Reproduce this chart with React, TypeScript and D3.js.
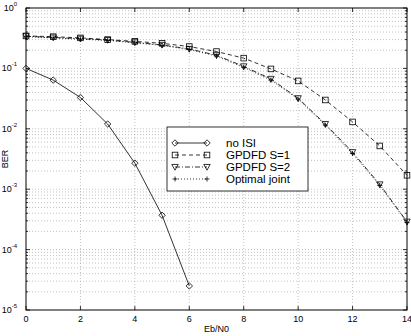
import { useRef, useEffect } from 'react';
import * as d3 from 'd3';

const EBN0 = [0, 1, 2, 3, 4, 5, 6, 7, 8, 9, 10, 11, 12, 13, 14];
const NO_ISI = [0.1, 0.064, 0.033, 0.012, 0.0027, 0.00037, 0.000025];
const GPDFD_S1 = [0.345, 0.335, 0.32, 0.3, 0.28, 0.26, 0.23, 0.19, 0.148, 0.098, 0.062, 0.03, 0.013, 0.0052, 0.0017];
const GPDFD_S2 = [0.34, 0.325, 0.31, 0.295, 0.27, 0.245, 0.21, 0.165, 0.108, 0.067, 0.032, 0.012, 0.0041, 0.0012, 0.00029];
const OPTIMAL = [0.335, 0.32, 0.305, 0.29, 0.265, 0.24, 0.205, 0.16, 0.104, 0.064, 0.031, 0.0115, 0.0039, 0.00115, 0.00028];
const X_TICKS = [0, 2, 4, 6, 8, 10, 12, 14];
const Y_EXPS = [0, -1, -2, -3, -4, -5];

export default function App() {
  const svgRef = useRef<SVGSVGElement>(null);

  useEffect(() => {
    const svg = d3.select(svgRef.current);
    svg.selectAll('*').remove();
    const W = 411, H = 336;
    const m = { l: 26, r: 4, t: 8, b: 26 };
    const x = d3.scaleLinear().domain([0, 14]).range([m.l, W - m.r]);
    const y = d3.scaleLog().domain([1e-5, 1]).range([H - m.b, m.t]);
    const font = 'Liberation Sans, Arial, sans-serif';

    svg.append('rect').attr('x', 0).attr('y', 0).attr('width', W).attr('height', H).attr('fill', '#fff');

    // grid
    const grid = svg.append('g').attr('stroke', '#999').attr('stroke-width', 0.6).attr('stroke-dasharray', '1,2');
    X_TICKS.slice(1, -1).forEach((t) => {
      grid.append('line').attr('x1', x(t)).attr('x2', x(t)).attr('y1', m.t).attr('y2', H - m.b);
    });
    const minor: number[] = [];
    for (let e = -5; e < 0; e++) for (let k = 1; k < 10; k++) minor.push(k * Math.pow(10, e));
    minor.slice(1).forEach((v) => {
      grid.append('line').attr('x1', m.l).attr('x2', W - m.r).attr('y1', y(v)).attr('y2', y(v));
    });

    // frame and ticks
    svg.append('rect').attr('x', m.l).attr('y', m.t).attr('width', W - m.l - m.r).attr('height', H - m.t - m.b)
      .attr('fill', 'none').attr('stroke', '#000').attr('stroke-width', 1);
    const ticks = svg.append('g').attr('stroke', '#000').attr('stroke-width', 0.8);
    X_TICKS.forEach((t) => {
      ticks.append('line').attr('x1', x(t)).attr('x2', x(t)).attr('y1', H - m.b).attr('y2', H - m.b - 4);
      ticks.append('line').attr('x1', x(t)).attr('x2', x(t)).attr('y1', m.t).attr('y2', m.t + 4);
    });
    minor.concat([1]).forEach((v) => {
      const major = Math.abs(Math.log10(v) - Math.round(Math.log10(v))) < 1e-9;
      const len = major ? 4 : 2;
      ticks.append('line').attr('x1', m.l).attr('x2', m.l + len).attr('y1', y(v)).attr('y2', y(v));
      ticks.append('line').attr('x1', W - m.r).attr('x2', W - m.r - len).attr('y1', y(v)).attr('y2', y(v));
    });

    // tick labels
    X_TICKS.forEach((t) => {
      svg.append('text').attr('x', x(t)).attr('y', H - m.b + 12).attr('text-anchor', 'middle')
        .attr('font-family', font).attr('font-size', 9).text(t);
    });
    Y_EXPS.forEach((e) => {
      const tx = svg.append('text').attr('x', m.l - 9).attr('y', y(Math.pow(10, e)) + 3).attr('text-anchor', 'end')
        .attr('font-family', font).attr('font-size', 9);
      tx.append('tspan').text('10');
      tx.append('tspan').attr('font-size', 6).attr('dy', -5).text(e);
    });
    svg.append('text').attr('x', (m.l + W - m.r) / 2).attr('y', H - 4).attr('text-anchor', 'middle')
      .attr('font-family', font).attr('font-size', 9).text('Eb/N0');
    svg.append('text').attr('transform', `translate(8,${(m.t + H - m.b) / 2}) rotate(-90)`).attr('text-anchor', 'middle')
      .attr('font-family', font).attr('font-size', 9).text('BER');

    // marker shapes
    const marker = (g: any, type: string, cx: number, cy: number) => {
      const s = 3.2;
      if (type === 'diamond') {
        g.append('path').attr('d', `M${cx},${cy - s}L${cx + s},${cy}L${cx},${cy + s}L${cx - s},${cy}Z`)
          .attr('fill', 'none').attr('stroke', '#000').attr('stroke-width', 0.8);
      } else if (type === 'square') {
        g.append('rect').attr('x', cx - 2.8).attr('y', cy - 2.8).attr('width', 5.6).attr('height', 5.6)
          .attr('fill', 'none').attr('stroke', '#000').attr('stroke-width', 0.8);
      } else if (type === 'tri') {
        g.append('path').attr('d', `M${cx - s},${cy - s * 0.8}L${cx + s},${cy - s * 0.8}L${cx},${cy + s}Z`)
          .attr('fill', 'none').attr('stroke', '#000').attr('stroke-width', 0.8);
      } else {
        g.append('path').attr('d', `M${cx - 2.5},${cy}H${cx + 2.5}M${cx},${cy - 2.5}V${cy + 2.5}`)
          .attr('stroke', '#000').attr('stroke-width', 0.8);
      }
    };

    const series = [
      { name: 'no ISI', vals: NO_ISI, dash: null, m: 'diamond' },
      { name: 'GPDFD S=1', vals: GPDFD_S1, dash: '4,3', m: 'square' },
      { name: 'GPDFD S=2', vals: GPDFD_S2, dash: '5,2,1,2', m: 'tri' },
      { name: 'Optimal joint', vals: OPTIMAL, dash: '1,2', m: 'plus' },
    ];
    const line = d3.line<number>().x((_, i) => x(EBN0[i])).y((d) => y(d));
    const plot = svg.append('g');
    series.forEach((s) => {
      plot.append('path').attr('d', line(s.vals)).attr('fill', 'none').attr('stroke', '#000')
        .attr('stroke-width', 0.8).attr('stroke-dasharray', s.dash);
      s.vals.forEach((v, i) => marker(plot, s.m, x(EBN0[i]), y(v)));
    });

    // legend
    const lg = svg.append('g');
    lg.append('rect').attr('x', 167).attr('y', 127).attr('width', 141).attr('height', 64)
      .attr('fill', '#fff').attr('stroke', '#000').attr('stroke-width', 0.8);
    series.forEach((s, i) => {
      const ly = 143 + i * 12;
      lg.append('line').attr('x1', 175).attr('x2', 207).attr('y1', ly).attr('y2', ly)
        .attr('stroke', '#000').attr('stroke-width', 0.8).attr('stroke-dasharray', s.dash);
      marker(lg, s.m, 175, ly);
      marker(lg, s.m, 207, ly);
      lg.append('text').attr('x', 226).attr('y', ly + 4).attr('font-family', font).attr('font-size', 11.5).text(s.name);
    });
  }, []);

  return (
    <div style={{ position: 'absolute', left: 0, top: 0 }}>
      <svg ref={svgRef} width={411} height={336} style={{ display: 'block' }} />
    </div>
  );
}
